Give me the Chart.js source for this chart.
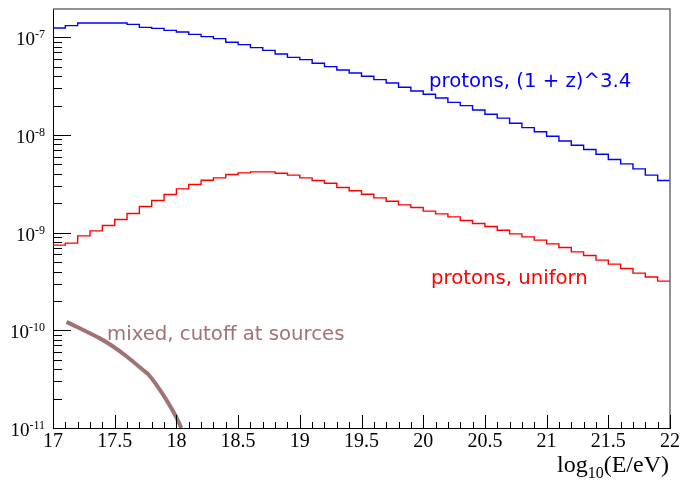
<!DOCTYPE html>
<html>
<head>
<meta charset="utf-8">
<script src="https://cdn.jsdelivr.net/npm/chart.js@4"></script>
<style>
  body { margin: 0; background: #fff; }
  #wrap { width: 682px; height: 485px; }
</style>
</head>
<body>
<div id="wrap"><canvas id="c" width="682" height="485"></canvas></div>
<script>
// bin low edges (0.1 wide), last entry is the upper edge of the last bin
const binEdges = [17.0, 17.1, 17.2, 17.3, 17.4, 17.5, 17.6, 17.7, 17.8, 17.9,
  18.0, 18.1, 18.2, 18.3, 18.4, 18.5, 18.6, 18.7, 18.8, 18.9,
  19.0, 19.1, 19.2, 19.3, 19.4, 19.5, 19.6, 19.7, 19.8, 19.9,
  20.0, 20.1, 20.2, 20.3, 20.4, 20.5, 20.6, 20.7, 20.8, 20.9,
  21.0, 21.1, 21.2, 21.3, 21.4, 21.5, 21.6, 21.7, 21.8, 21.9, 22.0];

// protons, (1 + z)^3.4
const protonsEvol = [1.245e-7, 1.318e-7, 1.40e-7, 1.40e-7, 1.40e-7, 1.40e-7, 1.358e-7, 1.265e-7, 1.236e-7, 1.179e-7,
  1.133e-7, 1.073e-7, 1.017e-7, 9.70e-8, 8.89e-8, 8.42e-8, 7.85e-8, 7.36e-8, 6.75e-8, 6.24e-8,
  5.91e-8, 5.42e-8, 5.01e-8, 4.63e-8, 4.31e-8, 3.99e-8, 3.69e-8, 3.41e-8, 3.08e-8, 2.82e-8,
  2.61e-8, 2.39e-8, 2.16e-8, 2.00e-8, 1.80e-8, 1.63e-8, 1.49e-8, 1.32e-8, 1.19e-8, 1.08e-8,
  9.71e-9, 8.69e-9, 7.85e-9, 7.10e-9, 6.35e-9, 5.61e-9, 5.06e-9, 4.50e-9, 3.88e-9, 3.42e-9];

// protons, uniform
const protonsUniform = [7.45e-10, 7.81e-10, 9.27e-10, 1.043e-9, 1.185e-9, 1.365e-9, 1.572e-9, 1.853e-9, 2.135e-9, 2.459e-9,
  2.805e-9, 3.112e-9, 3.444e-9, 3.635e-9, 3.939e-9, 4.09e-9, 4.19e-9, 4.19e-9, 4.06e-9, 3.88e-9,
  3.635e-9, 3.42e-9, 3.21e-9, 2.90e-9, 2.69e-9, 2.477e-9, 2.27e-9, 2.10e-9, 1.925e-9, 1.81e-9,
  1.66e-9, 1.557e-9, 1.45e-9, 1.333e-9, 1.242e-9, 1.157e-9, 1.06e-9, 9.72e-10, 9.06e-10, 8.38e-10,
  7.68e-10, 7.06e-10, 6.36e-10, 5.84e-10, 5.23e-10, 4.76e-10, 4.30e-10, 3.85e-10, 3.51e-10, 3.19e-10];

// mixed composition, cutoff at sources
const mixedLogE = [17.11, 17.38, 17.49, 17.60, 17.73, 17.77, 17.84, 17.92, 17.99, 18.04];
const mixedFlux = [1.22e-10, 8.27e-11, 6.79e-11, 5.36e-11, 3.92e-11, 3.57e-11, 2.75e-11, 1.93e-11, 1.36e-11, 1.0e-11];

const yDecades = [-11, -10, -9, -8, -7];
const xTickLabels = ['17', '17.5', '18', '18.5', '19', '19.5', '20', '20.5', '21', '21.5', '22'];

const BLUE = '#0000ff';
const RED = '#ff0000';
const BROWN = '#a07272';
const SERIF = '"Liberation Serif", "DejaVu Serif", serif';

const stepData = (vals) => binEdges.map((x, i) => ({ x, y: vals[Math.min(i, vals.length - 1)] }));

const rootAxes = {
  id: 'rootAxes',
  afterDraw(chart) {
    const { ctx, chartArea: a, scales } = chart;
    const xs = scales.x, ys = scales.y;
    ctx.save();

    // frame top + right
    ctx.strokeStyle = '#6e6e6e';
    ctx.lineWidth = 1.5;
    ctx.beginPath();
    ctx.moveTo(a.left, a.top); ctx.lineTo(a.right, a.top); ctx.lineTo(a.right, a.bottom);
    ctx.stroke();

    ctx.strokeStyle = '#000';
    ctx.lineWidth = 1;
    ctx.beginPath();
    // y ticks, pointing inward
    yDecades.forEach(d => {
      for (let m = 1; m <= 9; m++) {
        const v = m * Math.pow(10, d);
        if (v < ys.min * 0.999 || v > ys.max) continue;
        const py = Math.round(ys.getPixelForValue(v)) + 0.5;
        const len = m === 1 ? 18 : 9;
        ctx.moveTo(a.left, py); ctx.lineTo(a.left + len, py);
      }
    });
    // x ticks
    for (let k = 0; k <= 50; k++) {
      const v = 17 + k * 0.1;
      const px = Math.round(xs.getPixelForValue(v)) + 0.5;
      const len = k % 5 === 0 ? 13 : 6;
      ctx.moveTo(px, a.bottom); ctx.lineTo(px, a.bottom - len);
    }
    ctx.stroke();

    // y labels 10^d
    ctx.fillStyle = '#000';
    ctx.textBaseline = 'alphabetic';
    yDecades.forEach(d => {
      const py = ys.getPixelForValue(Math.pow(10, d));
      const sup = String(d);
      ctx.font = '12px ' + SERIF;
      const wSup = ctx.measureText(sup).width;
      ctx.font = '19px ' + SERIF;
      const wBase = ctx.measureText('10').width;
      const right = 45;
      ctx.textAlign = 'left';
      ctx.fillText('10', right - wSup - wBase, py + 8);
      ctx.font = '12px ' + SERIF;
      ctx.fillText(sup, right - wSup, py + 1);
    });

    // x title log10(E/eV)
    ctx.textAlign = 'left';
    ctx.font = '24px ' + SERIF;
    let tx = 557;
    const ty = 472;
    ctx.fillText('log', tx, ty);
    tx += ctx.measureText('log').width;
    ctx.font = '16px ' + SERIF;
    ctx.fillText('10', tx, ty + 6);
    tx += ctx.measureText('10').width;
    ctx.font = '24px ' + SERIF;
    ctx.fillText('(E/eV)', tx, ty);

    // curve labels
    ctx.font = '19.7px "DejaVu Sans"';
    ctx.fillStyle = BLUE;
    ctx.fillText('protons, (1 + z)^3.4', 429, 87);
    ctx.fillStyle = RED;
    ctx.fillText('protons, uniforn', 431, 284);
    ctx.fillStyle = BROWN;
    ctx.fillText('mixed, cutoff at sources', 107, 339.5);

    ctx.restore();
  }
};

new Chart(document.getElementById('c'), {
  type: 'line',
  data: {
    datasets: [
      {
        label: 'protons, (1 + z)^3.4',
        data: stepData(protonsEvol),
        borderColor: BLUE,
        borderWidth: 1.4,
        stepped: 'before',
        pointRadius: 0,
        fill: false
      },
      {
        label: 'protons, uniforn',
        data: stepData(protonsUniform),
        borderColor: RED,
        borderWidth: 1.4,
        stepped: 'before',
        pointRadius: 0,
        fill: false
      },
      {
        label: 'mixed, cutoff at sources',
        data: mixedLogE.map((x, i) => ({ x, y: mixedFlux[i] })),
        borderColor: BROWN,
        borderWidth: 4,
        tension: 0.3,
        pointRadius: 0,
        fill: false
      }
    ]
  },
  options: {
    responsive: false,
    devicePixelRatio: 1,
    animation: false,
    layout: { padding: { top: 9, right: 11, left: 0, bottom: 0 } },
    plugins: { legend: { display: false }, tooltip: { enabled: false } },
    scales: {
      x: {
        type: 'linear',
        min: 17,
        max: 22,
        afterFit: s => { s.height = 57; },
        afterBuildTicks: s => { s.ticks = xTickLabels.map(t => ({ value: parseFloat(t) })); },
        ticks: {
          autoSkip: false,
          maxRotation: 0,
          padding: 2,
          color: '#000',
          font: { family: SERIF, size: 20 },
          callback: (v, i) => xTickLabels[i]
        },
        grid: { display: false, drawTicks: false },
        border: { display: true, color: '#000', width: 1 }
      },
      y: {
        type: 'logarithmic',
        min: 1e-11,
        max: 1.95e-7,
        afterFit: s => { s.width = 53; },
        ticks: { display: false },
        grid: { display: false, drawTicks: false },
        border: { display: true, color: '#000', width: 1 }
      }
    }
  },
  plugins: [rootAxes]
});
</script>
</body>
</html>
